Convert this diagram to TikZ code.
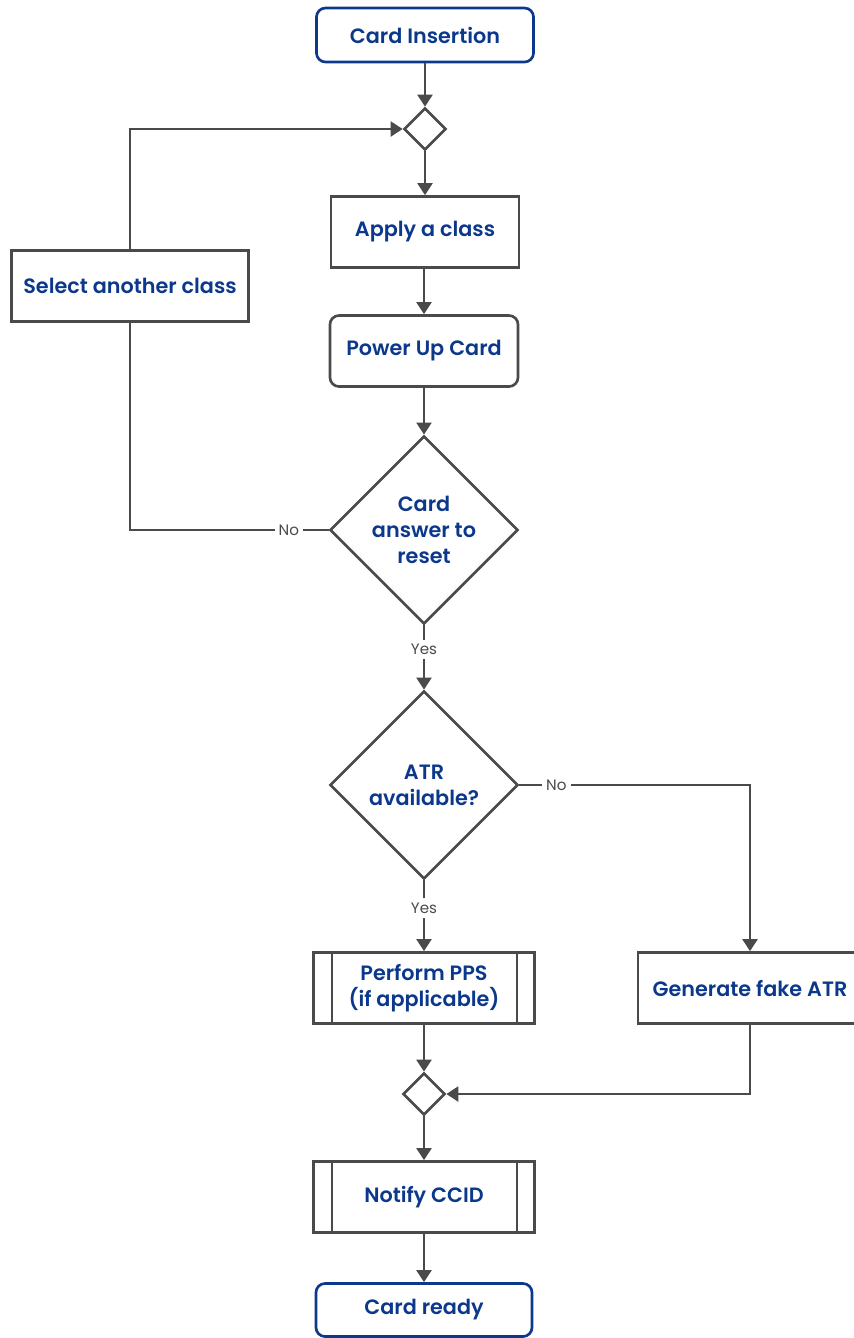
\documentclass[tikz,border=0pt]{standalone}
\usepackage{fontspec}
\setmainfont{Poppins}[BoldFont={Poppins SemiBold}]
\usepackage{xcolor}
\usetikzlibrary{shapes, arrows.meta, positioning}
\definecolor{cardblue}{RGB}{12,56,140}
\definecolor{linegray}{RGB}{74,74,74}

\begin{document}
\begin{tikzpicture}[x=0.01cm, y=-0.01cm, > = {Triangle[length=3.4pt, width=4.2pt]},
	line/.style = {draw=linegray, line width=0.75pt},
	txt/.style = {text=cardblue, font=\fontsize{5.9}{7.4}\selectfont\bfseries, align=center},
	terminal/.style = {txt, draw=cardblue, line width=0.75pt, rounded corners=2.6pt, minimum width=2.17cm, minimum height=0.54cm},
	stepbox/.style = {txt, line, minimum width=1.88cm, minimum height=0.71cm},
	roundbox/.style = {stepbox, rounded corners=2.6pt},
	subproc/.style = {txt, line, minimum width=2.21cm, minimum height=0.71cm},
	decision/.style = {diamond, line, aspect=1, inner sep=0pt, minimum size=1.88cm},
	junction/.style = {diamond, line, aspect=1, inner sep=0pt, minimum size=0.42cm},
	answer/.style = {fill=white, text=linegray, font=\fontsize{4.3}{5}\selectfont, inner sep=1.2pt}]
	\useasboundingbox (0,0) rectangle (854,1338);
	
	\node [terminal] (insert) at (425,35) {Card Insertion};
	\node [junction] (joinA) at (425,129) {};
	\node [stepbox] (apply) at (425,232) {Apply a class};
	\node [stepbox, minimum width=2.37cm] (select) at (130,286) {Select another class};
	\node [roundbox] (power) at (424,351) {Power Up Card};
	
	\node [decision] (reset) at (424,530) {};
	\node [txt] (resetText) at (reset) {Card\\answer to\\reset};
	\node [decision] (atr) at (424,785) {};
	\node [txt] (atrText) at (atr) {ATR\\available?};
	
	\node [subproc] (pps) at (424,988) {Perform PPS\\(if applicable)};
	\node [stepbox, minimum width=2.24cm] (fake) at (750,988) {Generate fake ATR};
	\node [junction] (joinB) at (424,1094) {};
	\node [subproc] (notify) at (424,1197) {Notify CCID};
	\node [terminal, minimum width=2.16cm, minimum height=0.53cm] (ready) at (424,1310) {Card ready};
	
	% side bars of the predefined processes
	\foreach \p in {pps, notify} {
		\draw [line] ([xshift=0.2cm]\p.north west) -- ([xshift=0.2cm]\p.south west);
		\draw [line] ([xshift=-0.19cm]\p.north east) -- ([xshift=-0.19cm]\p.south east);
	}
	
	\draw [line, ->] (insert) -- (joinA);
	\draw [line, ->] (joinA) -- (apply);
	\draw [line, ->] (apply.south -| power) -- (power);
	\draw [line, ->] (power) -- (reset);
	
	\draw [line] (reset.west) -- node [answer, pos=0.2] {No} (reset.west -| select) -- (select.south);
	\draw [line, ->] (select.north) |- (joinA.west);
	
	\draw [line, ->] (reset.south) -- node [answer, pos=0.37] {Yes} (atr.north);
	\draw [line, ->] (atr.east) -| node [answer, pos=0.08] {No} (fake.north);
	\draw [line, ->] (atr.south) -- node [answer, pos=0.39] {Yes} (pps.north);
	
	\draw [line, ->] (pps) -- (joinB);
	\draw [line, ->] (fake.south) |- (joinB.east);
	\draw [line, ->] (joinB) -- (notify);
	\draw [line, ->] (notify) -- (ready);
\end{tikzpicture}
\end{document}
